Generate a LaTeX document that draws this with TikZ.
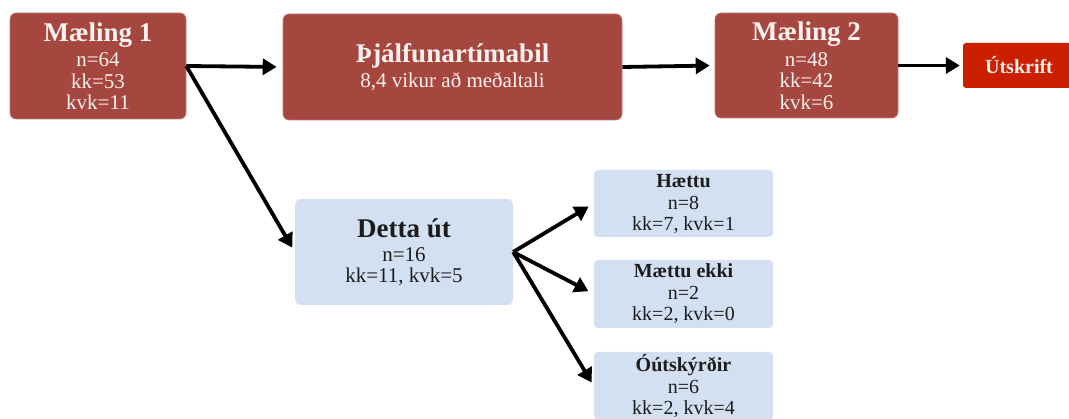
\documentclass[tikz,border=0pt]{standalone}
\usepackage{fontspec}
\setmainfont{Liberation Serif}
\usetikzlibrary{arrows.meta,calc}
\definecolor{boxred}{HTML}{A5463F}
\definecolor{boxredtext}{HTML}{FBF1EF}
\definecolor{brightred}{HTML}{CC1F00}
\definecolor{boxblue}{HTML}{D3E0F1}
\definecolor{bluetext}{HTML}{1C1C1C}
\tikzset{
  redbox/.style={fill=boxred, draw=boxred!70!white, line width=0.6pt, rounded corners=6pt, text=boxredtext, align=center, inner sep=0pt,
    font=\fontsize{21}{21.5}\selectfont},
  bluebox/.style={fill=boxblue, draw=none, rounded corners=6pt, text=bluetext, align=center, inner sep=0pt,
    font=\fontsize{21}{20.5}\selectfont},
  smallblue/.style={fill=boxblue, draw=none, rounded corners=4pt, text=bluetext, align=center, inner sep=0pt,
    font=\fontsize{20}{21}\selectfont},
  exitbox/.style={fill=brightred, draw=none, rounded corners=3pt, text=boxredtext, align=center, inner sep=0pt,
    font=\fontsize{20}{22}\selectfont\bfseries},
  arr/.style={line width=3.8pt, draw=black, -{Triangle[length=14pt,width=16pt]}},
}
\newcommand{\bigtitle}[1]{{\fontsize{27}{24}\selectfont\bfseries #1}}
\newcommand{\smalltitle}[1]{{\fontsize{20}{21}\selectfont\bfseries #1}}
\begin{document}
\begin{tikzpicture}[x=1pt,y=-1pt]
\useasboundingbox[fill=white] (0,0) rectangle (1069,419);
\begin{scope}
\clip (0,0) rectangle (1069,419);
\node[redbox, minimum width=176pt, minimum height=106pt] (m1) at (98,66)
  {\bigtitle{Mæling 1}\\[4pt]n=64\\kk=53\\kvk=11};
\node[redbox, minimum width=339pt, minimum height=106pt] (thj) at (452.5,67)
  {\bigtitle{Þjálfunartímabil}\\[4pt]8,4 vikur að meðaltali};
\node[redbox, minimum width=183pt, minimum height=105pt] (m2) at (806.5,65.5)
  {\bigtitle{Mæling 2}\\[4pt]n=48\\kk=42\\kvk=6};
\node[exitbox, minimum width=112pt, minimum height=45pt] (uts) at (1019,65.5) {Útskrift};
\node[bluebox, minimum width=218pt, minimum height=106pt] (detta) at (404,252)
  {\bigtitle{Detta út}\\[4pt]n=16\\kk=11, kvk=5};
\node[smallblue, minimum width=179pt, minimum height=67pt] (haettu) at (683.5,203.5)
  {\smalltitle{Hættu}\\[1pt]n=8\\kk=7, kvk=1};
\node[smallblue, minimum width=179pt, minimum height=68pt] (maettu) at (683.5,294)
  {\smalltitle{Mættu ekki}\\[1pt]n=2\\kk=2, kvk=0};
\node[smallblue, minimum width=179pt, minimum height=68pt] (oskyrt) at (683.5,386)
  {\smalltitle{Óútskýrðir}\\[1pt]n=6\\kk=2, kvk=4};
\end{scope}
\draw[arr, shorten >=6pt] (m1.east) -- (thj.west);
\draw[arr, shorten >=5pt] (m1.east) -- (detta.west);
\draw[arr, shorten >=5pt] (thj.east) -- (m2.west);
\draw[arr, shorten >=3pt] (m2.east) -- (uts.west);
\draw[arr, shorten >=6pt] (detta.east) -- (haettu.west);
\draw[arr, shorten >=6pt] (detta.east) -- (maettu.west);
\draw[arr, shorten >=4pt] (detta.east) -- (oskyrt.west);
\end{tikzpicture}
\end{document}
